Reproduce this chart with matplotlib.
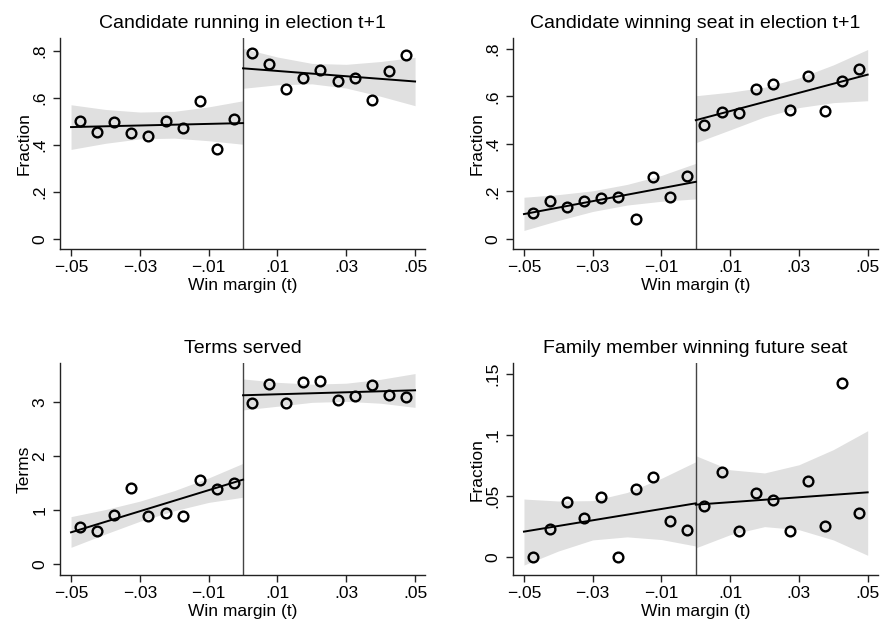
import matplotlib
matplotlib.use('Agg')
import matplotlib.pyplot as plt

plt.rcParams['font.family'] = ['Liberation Sans', 'DejaVu Sans']

# bin centres of win margin
x_bins = [-0.0475, -0.0425, -0.0375, -0.0325, -0.0275, -0.0225, -0.0175, -0.0125, -0.0075, -0.0025,
          0.0025, 0.0075, 0.0125, 0.0175, 0.0225, 0.0275, 0.0325, 0.0375, 0.0425, 0.0475]
fit_x_left = [-0.05, 0.0]
fit_x_right = [0.0, 0.05]
band_x_left = [-0.05, -0.04, -0.03, -0.02, -0.01, 0.0]
band_x_right = [0.0, 0.01, 0.02, 0.03, 0.04, 0.05]
x_ticks = [-0.05, -0.03, -0.01, 0.01, 0.03, 0.05]
x_ticklabels = ['\u2212.05', '\u2212.03', '\u2212.01', '.01', '.03', '.05']

# Candidate running in election t+1
run_y = [0.500, 0.452, 0.498, 0.450, 0.437, 0.499, 0.471, 0.586, 0.381, 0.511,
         0.789, 0.742, 0.635, 0.682, 0.719, 0.671, 0.685, 0.589, 0.712, 0.783]
run_fit_left = [0.475, 0.492]
run_fit_right = [0.725, 0.669]
run_hi_left = [0.570, 0.550, 0.539, 0.542, 0.561, 0.587]
run_lo_left = [0.380, 0.406, 0.425, 0.428, 0.417, 0.402]
run_hi_right = [0.810, 0.773, 0.746, 0.742, 0.754, 0.772]
run_lo_right = [0.640, 0.655, 0.659, 0.641, 0.606, 0.566]

# Candidate winning seat in election t+1
win_y = [0.107, 0.159, 0.135, 0.160, 0.170, 0.174, 0.083, 0.262, 0.176, 0.266,
         0.479, 0.536, 0.531, 0.631, 0.652, 0.543, 0.688, 0.539, 0.666, 0.714]
win_fit_left = [0.104, 0.240]
win_fit_right = [0.500, 0.692]
win_hi_left = [0.175, 0.186, 0.202, 0.229, 0.267, 0.318]
win_lo_left = [0.035, 0.077, 0.115, 0.142, 0.158, 0.168]
win_hi_right = [0.603, 0.618, 0.639, 0.678, 0.733, 0.798]
win_lo_right = [0.405, 0.459, 0.514, 0.553, 0.574, 0.582]

# Terms served
terms_y = [0.690, 0.610, 0.918, 1.417, 0.900, 0.949, 0.887, 1.553, 1.392, 1.503,
           2.988, 3.327, 2.982, 3.364, 3.389, 3.038, 3.105, 3.321, 3.124, 3.099]
terms_fit_left = [0.591, 1.565]
terms_fit_right = [3.124, 3.216]
terms_hi_left = [0.881, 1.012, 1.167, 1.361, 1.596, 1.866]
terms_lo_left = [0.314, 0.560, 0.795, 0.989, 1.144, 1.240]
terms_hi_right = [3.426, 3.363, 3.329, 3.347, 3.419, 3.525]
terms_lo_right = [2.853, 2.921, 2.993, 3.011, 2.977, 2.900]

# Family member winning future seat
fam_y = [0.0, 0.0227, 0.0454, 0.0322, 0.0489, 0.0, 0.0555, 0.0653, 0.0295, 0.0221,
         0.0415, 0.0697, 0.0213, 0.0527, 0.0464, 0.0216, 0.0623, 0.0257, 0.1429, 0.0358]
fam_fit_left = [0.0208, 0.0440]
fam_fit_right = [0.0429, 0.0530]
fam_hi_left = [0.0475, 0.0459, 0.0462, 0.0529, 0.0645, 0.0781]
fam_lo_left = [-0.0066, 0.0049, 0.0140, 0.0165, 0.0143, 0.0090]
fam_hi_right = [0.0830, 0.0715, 0.0689, 0.0756, 0.0880, 0.1035]
fam_lo_right = [0.0075, 0.0183, 0.0249, 0.0224, 0.0140, 0.0014]


def draw_panel(fig, rect, xlim, ylim, title, ylabel, y, fit_l, fit_r,
               lo_l, hi_l, lo_r, hi_r, yticks, yticklabels):
    ax = fig.add_axes(rect)
    band = '#e0e0e0'
    ax.fill_between(band_x_left, lo_l, hi_l, color=band, lw=0, zorder=1)
    ax.fill_between(band_x_right, lo_r, hi_r, color=band, lw=0, zorder=1)
    ax.axvline(0, color='#444444', lw=1.0, zorder=2)
    ax.plot(fit_x_left, fit_l, color='black', lw=1.4, zorder=3)
    ax.plot(fit_x_right, fit_r, color='black', lw=1.4, zorder=3)
    ax.plot(x_bins, y, ls='none', marker='o', ms=7, mew=1.7,
            mfc='none', mec='black', zorder=4)

    ax.set_xlim(*xlim)
    ax.set_ylim(*ylim)
    ax.set_xticks(x_ticks)
    ax.set_xticklabels(x_ticklabels)
    ax.set_yticks(yticks)
    ax.set_yticklabels(yticklabels, rotation=90, va='center')

    for s in ['top', 'right']:
        ax.spines[s].set_visible(False)
    for s in ['left', 'bottom']:
        ax.spines[s].set_color('#222222')
        ax.spines[s].set_linewidth(1.0)

    ax.tick_params(axis='x', labelsize=12.5, length=5, width=1, pad=3, color='#222222')
    ax.tick_params(axis='y', labelsize=12.5, length=5, width=1, pad=4, color='#222222')
    ax.set_title(title, fontsize=14, pad=7.5)
    ax.set_xlabel('Win margin (t)', fontsize=12.5, labelpad=2)
    ax.set_ylabel(ylabel, fontsize=12.5, labelpad=1)
    return ax


fig = plt.figure(figsize=(8.8, 6.21), dpi=100)

xl_left = (-0.0532, 0.0529)
xl_right = (-0.0531, 0.0530)

draw_panel(fig, [0.0682, 0.5985, 0.4148, 0.3398], xl_left, (-0.0451, 0.8527),
           'Candidate running in election t+1', 'Fraction', run_y,
           run_fit_left, run_fit_right, run_lo_left, run_hi_left, run_lo_right, run_hi_right,
           [0, 0.2, 0.4, 0.6, 0.8], ['0', '.2', '.4', '.6', '.8'])

draw_panel(fig, [0.5833, 0.5985, 0.4144, 0.3398], xl_right, (-0.0447, 0.8452),
           'Candidate winning seat in election t+1', 'Fraction', win_y,
           win_fit_left, win_fit_right, win_lo_left, win_hi_left, win_lo_right, win_hi_right,
           [0, 0.2, 0.4, 0.6, 0.8], ['0', '.2', '.4', '.6', '.8'])

draw_panel(fig, [0.0682, 0.0736, 0.4148, 0.3414], xl_left, (-0.203, 3.715),
           'Terms served', 'Terms', terms_y,
           terms_fit_left, terms_fit_right, terms_lo_left, terms_hi_left, terms_lo_right, terms_hi_right,
           [0, 1, 2, 3], ['0', '1', '2', '3'])

draw_panel(fig, [0.5833, 0.0736, 0.4144, 0.3414], xl_right, (-0.015, 0.1588),
           'Family member winning future seat', 'Fraction', fam_y,
           fam_fit_left, fam_fit_right, fam_lo_left, fam_hi_left, fam_lo_right, fam_hi_right,
           [0, 0.05, 0.1, 0.15], ['0', '.05', '.1', '.15'])

fig.savefig('out.png', dpi=100, facecolor='white')
